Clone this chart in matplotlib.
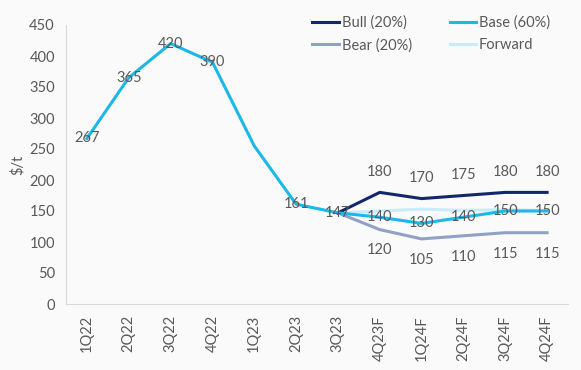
import numpy as np
import matplotlib.pyplot as plt

# -------------------------------------------------
# Data
# -------------------------------------------------

QUARTERS = ["1Q22", "2Q22", "3Q22", "4Q22", "1Q23", "2Q23", "3Q23",
            "4Q23F", "1Q24F", "2Q24F", "3Q24F", "4Q24F"]

base = [267, 365, 420, 390, 255, 161, 147, 140, 130, 140, 150, 150]
bull = [None, None, None, None, None, None, 147, 180, 170, 175, 180, 180]
bear = [None, None, None, None, None, None, 147, 120, 105, 110, 115, 115]
forward = [None, None, None, None, None, None, 147, 150, 153, 151, 152, 151]

base_labels = [267, 365, 420, 390, None, 161, 147, 140, 130, 140, 150, 150]
bull_labels = [None] * 7 + [180, 170, 175, 180, 180]
bear_labels = [None] * 7 + [120, 105, 110, 115, 115]

TEXT = "#595959"
FS = 10.5
plt.rcParams["font.family"] = ["Lato", "DejaVu Sans"]

fig = plt.figure(figsize=(5.81, 3.70), dpi=100, facecolor="#fafafa")
ax = fig.add_axes([66 / 581, 66 / 370, 502 / 581, 279 / 370])
ax.set_facecolor("#fafafa")

x = np.arange(len(QUARTERS))


def series(vals):
    return np.array([np.nan if v is None else v for v in vals], dtype=float)


ax.plot(x, series(forward), color="#c9ecf9", lw=2.2, label="Forward", zorder=2)
ax.plot(x, series(bear), color="#8fa2c6", lw=2.2, label="Bear (20%)", zorder=3)
ax.plot(x, series(bull), color="#13286a", lw=2.2, label="Bull (20%)", zorder=3)
ax.plot(x, series(base), color="#1cb8ea", lw=2.2, label="Base (60%)", zorder=4)

for i, v in enumerate(base_labels):
    if v is not None:
        ax.annotate(str(v), (x[i], base[i]), ha="center", va="center",
                    fontsize=FS, color=TEXT, zorder=5)
for i, v in enumerate(bull_labels):
    if v is not None:
        ax.annotate(str(v), (x[i], bull[i]), xytext=(0, 15),
                    textcoords="offset points", ha="center", va="center",
                    fontsize=FS, color=TEXT)
for i, v in enumerate(bear_labels):
    if v is not None:
        ax.annotate(str(v), (x[i], bear[i]), xytext=(0, -15),
                    textcoords="offset points", ha="center", va="center",
                    fontsize=FS, color=TEXT)

ax.set_xlim(-0.5, len(QUARTERS) - 0.5)
ax.set_ylim(0, 450)
ax.set_yticks(range(0, 451, 50))
ax.set_xticks(x)
ax.set_xticklabels(QUARTERS, rotation=90)
ax.tick_params(axis="both", colors=TEXT, labelsize=FS, length=0)
ax.tick_params(axis="x", pad=8)
ax.tick_params(axis="y", pad=8)
ax.set_ylabel("$/t", color=TEXT, fontsize=FS, labelpad=3)

for side in ["top", "right"]:
    ax.spines[side].set_visible(False)
for side in ["left", "bottom"]:
    ax.spines[side].set_color("#d9d9d9")

handles, labels = ax.get_legend_handles_labels()
order = ["Bull (20%)", "Bear (20%)", "Base (60%)", "Forward"]
hmap = dict(zip(labels, handles))
ax.legend([hmap[k] for k in order], order, ncol=2, loc="upper right",
          bbox_to_anchor=(0.99, 1.08), frameon=False, fontsize=FS,
          labelcolor=TEXT, handlelength=1.8, handletextpad=0.2,
          columnspacing=2.6, labelspacing=0.55)

fig.savefig("out.png", dpi=100, facecolor=fig.get_facecolor())
